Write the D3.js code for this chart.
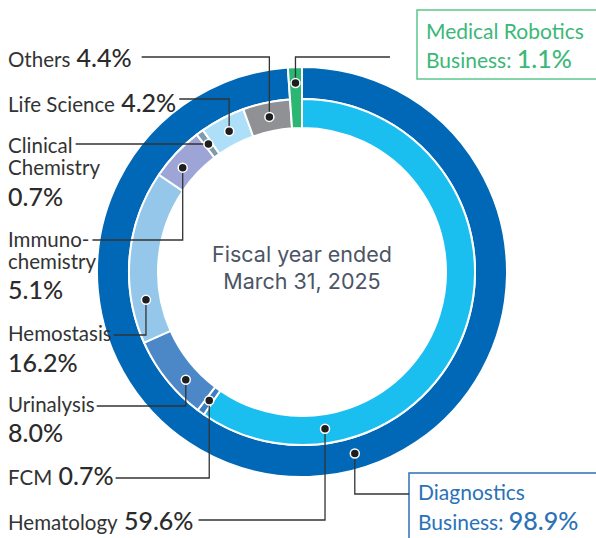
<!DOCTYPE html>
<html lang="en">
<meta charset="utf-8">
<title>Sales composition by business</title>
<style>
    body { margin: 0; background: white; }
    svg  { display: block; font-family: Lato, "Noto Sans", sans-serif; }
</style>
<body>
<svg id="canvas"></svg>
<script src="https://cdn.jsdelivr.net/npm/d3@7/dist/d3.min.js"></script>
<script>

    ////////////////////// Data ///////////////////////
    var business_names  = ["Diagnostics Business", "Medical Robotics Business"];
    var business_values = [98.9, 1.1];
    var product_names   = ["Hematology", "FCM", "Urinalysis", "Hemostasis",
                           "Immunochemistry", "Clinical Chemistry", "Life Science",
                           "Others", "Medical Robotics"];
    var product_values  = [59.6, 0.7, 8.0, 16.2, 5.1, 0.7, 4.2, 4.4, 1.1];
    var center_lines    = ["Fiscal year ended", "March 31, 2025"];
    ///////////////////////////////////////////////////

    ///////// Position and Dimension Variables ////////
    var dimensions   = [596, 538];
    var cx           = 302;
    var cy           = 272;
    var r_in_inner   = 144;
    var r_in_outer   = 173;
    var r_out_outer  = 205;
    var text_x       = 8;
    ///////////////////////////////////////////////////

    ///////////////// Style Variables /////////////////
    var business_colors = ['#0068b6', '#2bb673'];
    var product_colors  = ['#1abff0', '#3a7fc3', '#4c88c8', '#95c7eb',
                           '#9ca5d6', '#7d9baa', '#addff8', '#8f9194', '#2bb673'];
    var name_size    = 20.5;
    var box_size     = 21;
    var pct_size     = 25;
    var text_color   = '#2b2b2b';
    var line_color   = '#333333';
    ///////////////////////////////////////////////////

    // label layout: rows of [name, "%"], baselines, leader y, dot spot in segment
    var product_labels = [
        {i: 7, rows: [["Others", "%"]],               base: [67],            lineY: 57,  gap: 10, at: 0.5},
        {i: 6, rows: [["Life Science", "%"]],         base: [112],           lineY: 99,  gap: 3,  at: 0.5},
        {i: 5, rows: [["Clinical"], ["Chemistry"], ["%"]], base: [153, 175, 206], lineY: 144, gap: 3, at: 0.5},
        {i: 4, rows: [["Immuno-"], ["chemistry"], ["%"]],  base: [247, 269, 299], lineY: 240, gap: 3, at: 0.38},
        {i: 3, rows: [["Hemostasis"], ["%"]],         base: [341, 372],      lineY: 335, gap: 2,  at: 0.24},
        {i: 2, rows: [["Urinalysis"], ["%"]],         base: [412, 442],      lineY: 406, gap: 2,  at: 0.35},
        {i: 1, rows: [["FCM", "%"]],                  base: [485],           lineY: 478, gap: 2,  at: 0.5},
        {i: 0, rows: [["Hematology", "%"]],           base: [530],           lineY: 520, gap: 5,  at: 0.8}
    ];
    var business_labels = [
        {i: 1, box: [417, 10, 200, 69],  tx: 426, base: [39, 68],   lineY: 57,  endX: 390, at: 0.5,
         color: '#3bb878', stroke: '#5cc68e'},
        {i: 0, box: [409, 473, 200, 90], tx: 418, base: [500, 530], lineY: 494, endX: 409, at: 0.46,
         color: '#2a72b8', stroke: '#2d70b6'}
    ];

    var fmt = function (v) { return d3.format(".1f")(v) + "%"; };

    //////////////////// BG layer /////////////////////
    var canvas = d3.select("#canvas")
        .attr('width',  dimensions[0])
        .attr('height', dimensions[1]);
    var ring = canvas.append("g").attr('transform', 'translate(' + cx + ',' + cy + ')');
    ///////////////////////////////////////////////////

    ///////////////////// donuts //////////////////////
    var pie = d3.pie().sort(null).value(function (d) { return d; });
    var business_arcs = pie(business_values);
    var product_arcs  = pie(product_values);

    var arc_outer = d3.arc().innerRadius(r_in_outer).outerRadius(r_out_outer);
    var arc_inner = d3.arc().innerRadius(r_in_inner).outerRadius(r_in_outer);
    var arc_full  = d3.arc().innerRadius(r_in_inner).outerRadius(r_out_outer);

    ring.append("path")
        .attr('d', arc_outer(business_arcs[0]))
        .attr('fill', business_colors[0])
        .attr('stroke', 'white').attr('stroke-width', 2);

    ring.selectAll("path.product")
        .data(product_arcs.slice(0, product_arcs.length - 1))
        .enter().append("path")
        .attr('class', 'product')
        .attr('d', arc_inner)
        .attr('fill', function (d, k) { return product_colors[k]; })
        .attr('stroke', 'white').attr('stroke-width', 2);

    // medical robotics spans both rings
    ring.append("path")
        .attr('d', arc_full(business_arcs[1]))
        .attr('fill', business_colors[1])
        .attr('stroke', 'white').attr('stroke-width', 2);
    ///////////////////////////////////////////////////

    //////////////////// center text //////////////////
    canvas.selectAll("text.center")
        .data(center_lines)
        .enter().append("text")
        .attr('class', 'center')
        .attr('x', cx)
        .attr('y', function (d, k) { return 262 + k * 27; })
        .attr('text-anchor', 'middle')
        .attr('fill', '#4b5565')
        .attr('font-family', 'Inter, Lato, sans-serif')
        .attr('font-size', 21.5)
        .text(function (d) { return d; });
    ///////////////////////////////////////////////////

    function spot(d, at, r) {
        var a = d.startAngle + at * (d.endAngle - d.startAngle);
        return [cx + r * Math.sin(a), cy - r * Math.cos(a)];
    }

    function dot(p) {
        canvas.append("circle")
            .attr('cx', p[0]).attr('cy', p[1]).attr('r', 4.5)
            .attr('fill', '#1e1e1e')
            .attr('stroke', 'white').attr('stroke-width', 1.5);
    }

    ///////////////// product labels //////////////////
    product_labels.forEach(function (L) {
        var end_x = text_x;
        L.rows.forEach(function (row, k) {
            var t = canvas.append("text")
                .attr('x', text_x)
                .attr('y', L.base[k])
                .attr('fill', text_color);
            row.forEach(function (part, j) {
                if (part === "%") {
                    t.append("tspan")
                     .attr('font-size', pct_size)
                     .attr('font-weight', 500)
                     .text((j > 0 ? " " : "") + fmt(product_values[L.i]));
                } else {
                    t.append("tspan")
                     .attr('font-size', name_size)
                     .attr('fill', '#333')
                     .text(part);
                }
            });
            if (k === 0) end_x = text_x + t.node().getComputedTextLength();
        });
        var p = spot(product_arcs[L.i], L.at, (r_in_inner + r_in_outer) / 2);
        canvas.append("path")
            .attr('d', 'M' + p[0] + ',' + p[1] + 'V' + L.lineY + 'H' + (end_x + L.gap))
            .attr('fill', 'none')
            .attr('stroke', line_color)
            .attr('stroke-width', 1.3);
        dot(p);
    });
    ///////////////////////////////////////////////////

    //////////////// business labels //////////////////
    business_labels.forEach(function (L) {
        canvas.append("rect")
            .attr('x', L.box[0]).attr('y', L.box[1])
            .attr('width', L.box[2]).attr('height', L.box[3])
            .attr('fill', 'white')
            .attr('stroke', L.stroke).attr('stroke-width', 1.5);
        var words = business_names[L.i].split(" ");
        var last  = words.pop();
        canvas.append("text")
            .attr('x', L.tx).attr('y', L.base[0])
            .attr('fill', L.color).attr('font-size', box_size)
            .text(words.join(" "));
        var t = canvas.append("text")
            .attr('x', L.tx).attr('y', L.base[1])
            .attr('fill', L.color);
        t.append("tspan").attr('font-size', box_size).text(last + ": ");
        t.append("tspan").attr('font-size', pct_size).attr('font-weight', 500)
            .text(fmt(business_values[L.i]));

        var p = spot(business_arcs[L.i], L.at, (r_in_outer + r_out_outer) / 2);
        canvas.append("path")
            .attr('d', 'M' + p[0] + ',' + p[1] + 'V' + L.lineY + 'H' + L.endX)
            .attr('fill', 'none')
            .attr('stroke', line_color)
            .attr('stroke-width', 1.3);
        dot(p);
    });
    ///////////////////////////////////////////////////

</script>
</body>
</html>
